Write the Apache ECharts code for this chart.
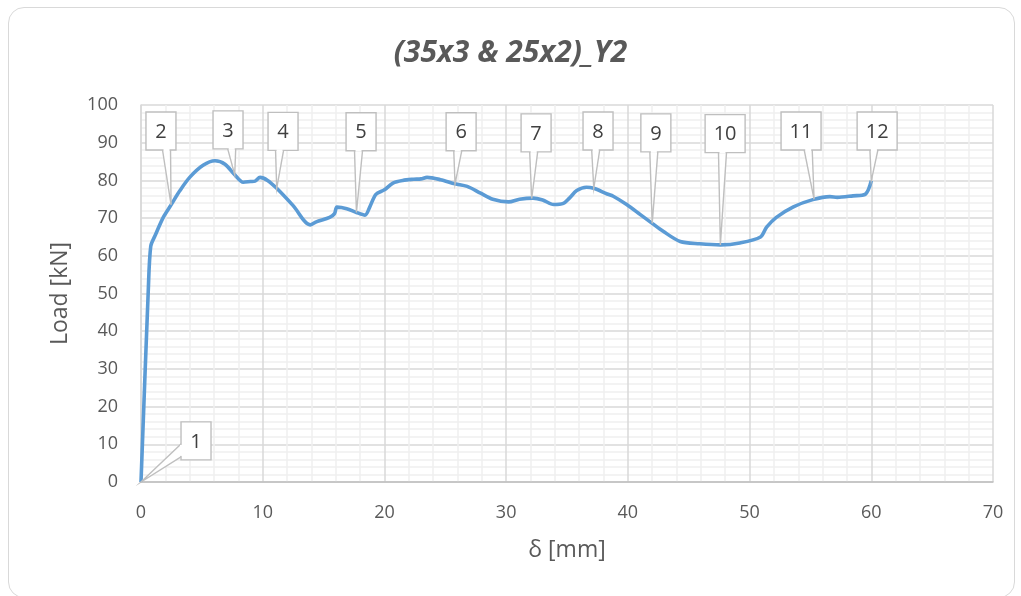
<!DOCTYPE html>
<html>
<head>
<meta charset="utf-8">
<script src="https://cdn.jsdelivr.net/npm/echarts@6/dist/echarts.min.js"></script>
<style>
  html, body { margin: 0; padding: 0; background: #ffffff; }
  #frame {
    position: absolute; left: 8px; top: 7px; width: 1007px; height: 591px;
    border: 1.5px solid #d9d9d9; border-radius: 16px; box-sizing: border-box;
  }
  #chart { position: absolute; left: 0; top: 0; width: 1021px; height: 596px; }
</style>
</head>
<body>
<div id="frame"></div>
<div id="chart"></div>
<script>
// Load–displacement record
const deflection = [0, 0.6, 0.8, 1.15, 1.83, 2.47, 3.2, 4.0, 5.1, 6.08, 6.9, 7.7, 8.4, 9.0, 9.37, 9.78, 10.4,
  11.15, 12.5, 13.9, 14.4, 15.5, 15.9, 16.1, 16.9, 17.7, 18.4, 18.8, 19.3, 20.0, 20.7, 21.5, 22.4, 23.0, 23.5,
  24.6, 25.8, 26.8, 27.9, 28.9, 30.2, 31.1, 32.2, 33.0, 33.9, 34.7, 35.2, 35.8, 36.6, 37.2, 38.3, 38.8, 39.9,
  41.0, 42.0, 42.9, 44.3, 45.9, 47.6, 49.2, 50.9, 51.4, 52.2, 53.6, 55.2, 56.6, 57.2, 58.5, 59.5, 60.0];
const load = [0, 51, 62.5, 65.3, 70.2, 73.5, 77.3, 80.8, 84.0, 85.2, 84.3, 81.5, 79.5, 79.7, 79.8, 80.8, 80.0,
  77.9, 73.3, 68.2, 69.0, 70.2, 71.2, 72.9, 72.5, 71.5, 70.8, 73.0, 76.3, 77.5, 79.3, 80.0, 80.3, 80.4, 80.8,
  80.2, 79.1, 78.4, 76.6, 75.0, 74.3, 75.0, 75.3, 74.8, 73.6, 73.9, 75.3, 77.3, 78.2, 77.9, 76.4, 75.8, 73.6,
  71.0, 68.6, 66.5, 63.8, 63.2, 62.9, 63.4, 65.0, 67.6, 70.2, 73.0, 74.9, 75.7, 75.5, 75.9, 76.3, 79.9];

// Numbered stages marked along the curve
const stageLabels = ['1', '2', '3', '4', '5', '6', '7', '8', '9', '10', '11', '12'];
const stageDeflection = [0, 2.47, 7.7, 11.15, 17.7, 25.8, 32.1, 37.2, 42.0, 47.6, 55.3, 60.0];
const stageLoad = [0, 73.5, 81.5, 77.9, 71.5, 79.1, 75.2, 77.9, 68.6, 62.9, 75.0, 79.9];

// Axis ticks
const xTicks = { min: 0, max: 70, step: 10 };
const yTicks = { min: 0, max: 100, step: 10 };

// Callout box anchors (axis units), kept apart from the data
const boxCentreX = [4.52, 1.64, 7.15, 11.67, 18.08, 26.3, 32.46, 37.55, 42.3, 47.99, 54.23, 60.48];
const boxCentreY = [10.9, 93.1, 93.4, 93.0, 92.9, 92.9, 92.6, 93.1, 92.6, 92.4, 93.1, 93.1];

const TEXT = '#595959';
const FONT = '"Open Sans", "Noto Sans", sans-serif';

const chart = echarts.init(document.getElementById('chart'), null, { renderer: 'canvas' });

function renderCallout(params, api) {
  const i = params.dataIndex;
  const tip = api.coord([api.value(0), api.value(1)]);
  const c = api.coord([api.value(2), api.value(3)]);
  const label = stageLabels[i];
  const w = label.length > 1 ? 40 : 30;
  const h = 38;
  const left = c[0] - w / 2, top = c[1] - h / 2, right = left + w, bottom = top + h;
  const dx = tip[0] - c[0], dy = tip[1] - c[1];
  let base, seam;
  if (Math.abs(dx) / (w / 2) > Math.abs(dy) / (h / 2)) {
    // tail leaves from a side edge
    const ex = dx < 0 ? left : right;
    base = [[ex, bottom - 16], [ex, bottom - 3]];
    seam = [[ex, bottom - 15], [ex, bottom - 4]];
  } else {
    const mid = Math.max(left + 6, Math.min(right - 6, c[0] + dx * 0.55));
    const ey = dy > 0 ? bottom : top;
    base = [[mid - 4, ey], [mid + 4, ey]];
    seam = [[mid - 3, ey], [mid + 3, ey]];
  }
  const stroke = '#bfbfbf';
  return {
    type: 'group',
    children: [
      {
        type: 'polygon',
        shape: { points: [base[0], tip, base[1]] },
        style: { fill: '#ffffff', stroke: stroke, lineWidth: 1.4 }
      },
      {
        type: 'rect',
        shape: { x: left, y: top, width: w, height: h },
        style: { fill: '#ffffff', stroke: stroke, lineWidth: 1.4 }
      },
      {
        // open the box edge where the wedge joins it
        type: 'polyline',
        shape: { points: seam },
        style: { stroke: '#ffffff', lineWidth: 2 }
      },
      {
        type: 'text',
        style: {
          x: c[0], y: c[1] + 1, text: label, align: 'center', verticalAlign: 'middle',
          fill: '#404040', font: '20px ' + FONT
        }
      }
    ]
  };
}

const option = {
  animation: false,
  title: {
    text: '(35x3 & 25x2)_Y2',
    left: 'center', top: 33,
    textStyle: { color: TEXT, fontSize: 30, fontStyle: 'italic', fontWeight: 'bold', fontFamily: FONT }
  },
  grid: { left: 141, right: 28, top: 105, bottom: 114, containLabel: false },
  xAxis: {
    type: 'value', min: xTicks.min, max: xTicks.max, interval: xTicks.step,
    name: 'δ [mm]', nameLocation: 'middle', nameGap: 57,
    nameTextStyle: { color: TEXT, fontSize: 23, fontFamily: FONT },
    axisLine: { show: true, lineStyle: { color: '#bfbfbf', width: 1.5 } },
    axisTick: { show: false },
    axisLabel: { color: TEXT, fontSize: 18, fontFamily: FONT, margin: 22 },
    splitLine: { show: true, lineStyle: { color: '#d9d9d9', width: 1.5 } },
    minorTick: { show: false, splitNumber: 5 },
    minorSplitLine: { show: true, lineStyle: { color: '#efefef', width: 1.5 } }
  },
  yAxis: {
    type: 'value', min: yTicks.min, max: yTicks.max, interval: yTicks.step,
    name: 'Load [kN]', nameLocation: 'middle', nameGap: 69, nameRotate: 90,
    nameTextStyle: { color: TEXT, fontSize: 23, fontFamily: FONT },
    axisLine: { show: true, lineStyle: { color: '#d9d9d9', width: 1.5 } },
    axisTick: { show: false },
    axisLabel: { color: TEXT, fontSize: 18, fontFamily: FONT, margin: 23 },
    splitLine: { show: true, lineStyle: { color: '#d9d9d9', width: 1.5 } },
    minorTick: { show: false, splitNumber: 5 },
    minorSplitLine: { show: true, lineStyle: { color: '#efefef', width: 1.5 } }
  },
  series: [
    {
      type: 'line',
      data: deflection.map((d, i) => [d, load[i]]),
      smooth: 0.3,
      showSymbol: false,
      lineStyle: { color: '#5b9bd5', width: 3.6 },
      z: 3
    },
    {
      type: 'custom',
      renderItem: renderCallout,
      data: stageDeflection.map((d, i) => [d, stageLoad[i], boxCentreX[i], boxCentreY[i]]),
      encode: { x: 0, y: 1 },
      clip: false,
      z: 5
    }
  ]
};

chart.setOption(option);
</script>
</body>
</html>
